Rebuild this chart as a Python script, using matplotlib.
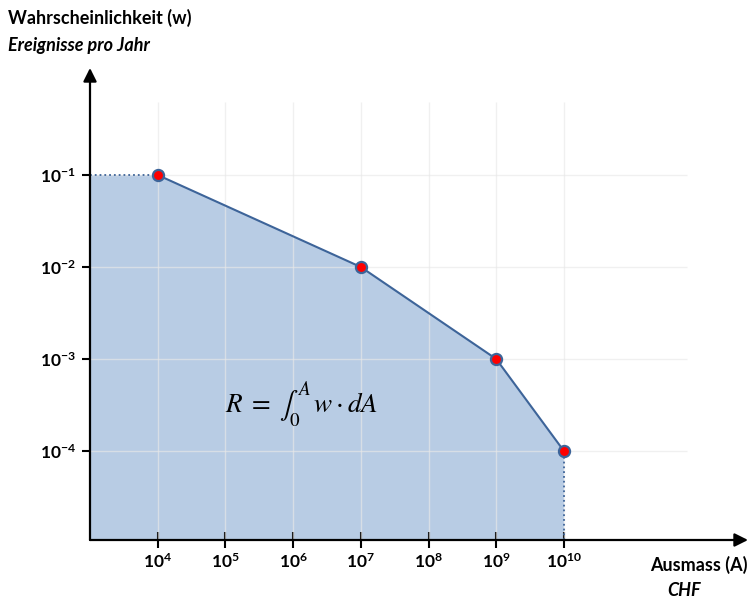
import matplotlib.pyplot as plt

# data
ausmass = [1e4, 1e7, 1e9, 1e10]
wahrscheinlichkeit = [1e-1, 1e-2, 1e-3, 1e-4]
x_exponents = [4, 5, 6, 7, 8, 9, 10]
y_exponents = [-4, -3, -2, -1]

W, H = 750, 597
FILL = '#b8cce4'
LINE = '#3d6499'

plt.rcParams['font.family'] = ['Lato', 'DejaVu Sans']
plt.rcParams['mathtext.fontset'] = 'custom'
plt.rcParams['mathtext.rm'] = 'Lato'
plt.rcParams['mathtext.bf'] = 'Lato:bold'
plt.rcParams['mathtext.it'] = 'Lato:italic'

# pixel geometry of the axes (origin at 10^3 / 10^-5)
x0_px, x1_px = 90, 748
y0_px, y1_px = 540, 68
px_per_dec_x = 67.7
px_per_dec_y = 92.0
x_lo = 1e3
y_lo = 10 ** (-1 - (y0_px - 175) / px_per_dec_y)
x_hi = 10 ** (3 + (x1_px - x0_px) / px_per_dec_x)
y_hi = 10 ** (-1 + (175 - y1_px) / px_per_dec_y)

fig = plt.figure(figsize=(W / 100, H / 100), dpi=100)
ax = fig.add_axes([x0_px / W, (H - y0_px) / H, (x1_px - x0_px) / W, (y0_px - y1_px) / H])
ax.set_xscale('log')
ax.set_yscale('log')
ax.set_xlim(x_lo, x_hi)
ax.set_ylim(y_lo, y_hi)
for s in ax.spines.values():
    s.set_visible(False)

# filled area under the curve
poly_x = [x_lo] + ausmass + [ausmass[-1], x_lo]
poly_y = [wahrscheinlichkeit[0]] + wahrscheinlichkeit + [y_lo, y_lo]
ax.fill(poly_x, poly_y, color=FILL, lw=0, zorder=1)

# grid
x_ticks = [10.0 ** e for e in x_exponents]
y_ticks = [10.0 ** e for e in y_exponents]
ax.vlines(x_ticks, y_lo, 10 ** -0.21, color='#e8e8e8', alpha=0.65, lw=1, zorder=2)
ax.hlines(y_ticks, x_lo, 10 ** 11.82, color='#e8e8e8', alpha=0.65, lw=1, zorder=2)

# curve
ax.plot(ausmass, wahrscheinlichkeit, color=LINE, lw=1.5, zorder=3)
ax.plot([x_lo, ausmass[0]], [wahrscheinlichkeit[0]] * 2, color=LINE, lw=1.3, ls=':', zorder=3)
ax.plot([ausmass[-1]] * 2, [y_lo, wahrscheinlichkeit[-1]], color=LINE, lw=1.3, ls=':', zorder=3)
ax.plot(ausmass, wahrscheinlichkeit, ls='none', marker='o', ms=8, mfc='#ff0000',
        mec='#3d6499', mew=1.6, zorder=4)

# axes with arrow heads
arrow = dict(arrowstyle='-|>', lw=1.6, color='black', mutation_scale=20, shrinkA=0, shrinkB=0)
ax.annotate('', xy=(1, 0), xytext=(0, 0), xycoords='axes fraction', arrowprops=arrow,
            annotation_clip=False, zorder=5)
ax.annotate('', xy=(0, 1), xytext=(0, 0), xycoords='axes fraction', arrowprops=arrow,
            annotation_clip=False, zorder=5)

ax.set_xticks(x_ticks, [r'$\mathbf{10^{%d}}$' % e for e in x_exponents])
ax.set_yticks(y_ticks, [r'$\mathbf{10^{%d}}$' % e for e in y_exponents])
ax.minorticks_off()
ax.tick_params(axis='x', direction='inout', length=11, width=1.5, pad=3, labelsize=12.5)
ax.tick_params(axis='y', direction='out', length=6, width=1.5, pad=4, labelsize=12.5)

# formula
ax.text(10 ** 6.12, 10 ** -3.5, r'$R\;=\;\int_0^A\, w\cdot dA$', math_fontfamily='stix',
        fontsize=19.5, ha='center', va='center', zorder=5)

# axis titles
fig.text(8 / W, 1 - 18 / H, 'Wahrscheinlichkeit (w)', fontsize=13, fontweight='bold',
         ha='left', va='center')
fig.text(8 / W, 1 - 45 / H, 'Ereignisse pro Jahr', fontsize=13, fontweight='bold',
         style='italic', ha='left', va='center')
fig.text(748 / W, 1 - 565 / H, 'Ausmass (A)', fontsize=13, fontweight='bold',
         ha='right', va='center')
fig.text(667 / W, 1 - 590 / H, 'CHF', fontsize=13, fontweight='bold', style='italic',
         ha='left', va='center')

fig.savefig('out.png', dpi=100)
